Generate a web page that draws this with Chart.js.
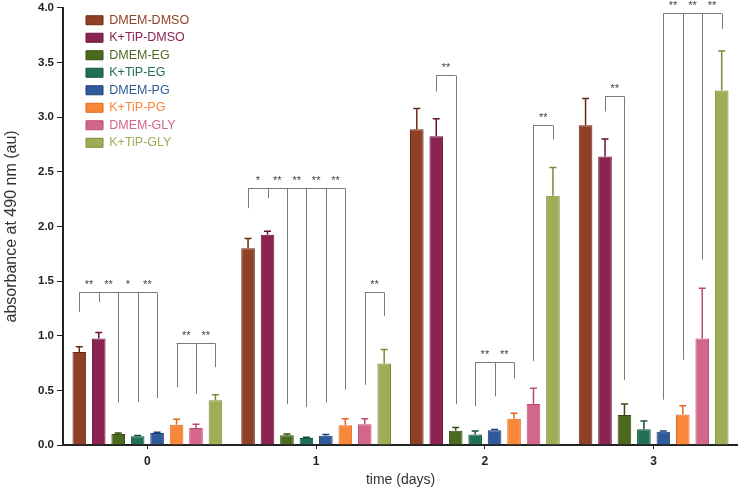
<!DOCTYPE html>
<html>
<head>
<meta charset="utf-8">
<script src="https://cdn.jsdelivr.net/npm/chart.js@4.4.1/dist/chart.umd.min.js"></script>
<style>
  html, body { margin: 0; padding: 0; background: #fff; }
</style>
</head>
<body>
<canvas id="absChart" width="738" height="490"></canvas>
<script>
// categories (days)
const days = ['0', '1', '2', '3'];

// mean absorbance per series
const dmemDmso = [0.85, 1.80, 2.89, 2.925];
const ktipDmso = [0.975, 1.925, 2.825, 2.64];
const dmemEg = [0.10, 0.09, 0.13, 0.275];
const ktipEg = [0.08, 0.065, 0.097, 0.145];
const dmemPg = [0.11, 0.085, 0.136, 0.122];
const ktipPg = [0.185, 0.18, 0.24, 0.28];
const dmemGly = [0.155, 0.19, 0.375, 0.975];
const ktipGly = [0.41, 0.745, 2.28, 3.245];

// upper error (SD)
const dmemDmsoErr = [0.05, 0.09, 0.19, 0.245];
const ktipDmsoErr = [0.055, 0.03, 0.16, 0.16];
const dmemEgErr = [0.01, 0.01, 0.03, 0.10];
const ktipEgErr = [0.008, 0.007, 0.03, 0.075];
const dmemPgErr = [0.006, 0.01, 0.006, 0.007];
const ktipPgErr = [0.05, 0.06, 0.05, 0.08];
const dmemGlyErr = [0.035, 0.05, 0.145, 0.46];
const ktipGlyErr = [0.05, 0.13, 0.26, 0.36];

// significance brackets: day, bars joined, height of bar, foot of each leg, stars between legs
const bracketDay = [0, 0, 1, 1, 2, 2, 2, 3, 3];
const bracketBars = [[0, 1, 2, 3, 4], [5, 6, 7], [0, 1, 2, 3, 4, 5], [6, 7], [1, 2], [3, 4, 5], [6, 7], [1, 2], [4, 5, 6, 7]];
const bracketTop = [1.397, 0.934, 2.355, 1.397, 3.382, 0.764, 2.924, 3.197, 3.955];
const bracketDrops = [
    [1.218, 1.31, 0.388, 0.394, 0.43],
    [0.53, 0.47, 0.712],
    [2.167, 2.257, 0.373, 0.348, 0.388, 0.506],
    [0.552, 1.18],
    [3.234, 0.373],
    [0.355, 0.445, 0.609],
    [0.767, 2.797],
    [3.052, 0.594],
    [0.415, 0.779, 1.697, 3.809]
];
const bracketStars = [
    ['**', '**', '*', '**'],
    ['**', '**'],
    ['*', '**', '**', '**', '**'],
    ['**'],
    ['**'],
    ['**', '**'],
    ['**'],
    ['**'],
    ['**', '**', '**']
];

Chart.defaults.font.family = '"Liberation Sans", Arial, sans-serif';

function series(label, data, errors, fill, line) {
    return {
        label: label,
        data: data,
        errors: errors,
        backgroundColor: fill,
        borderColor: line,
        borderWidth: 1
    };
}

// draws the upper error bar on each bar
const errorBars = {
    id: 'errorBars',
    afterDatasetsDraw(chart) {
        const ctx = chart.ctx;
        const y = chart.scales.y;
        chart.data.datasets.forEach((ds, i) => {
            const meta = chart.getDatasetMeta(i);
            meta.data.forEach((bar, j) => {
                const top = y.getPixelForValue(ds.data[j] + ds.errors[j]);
                ctx.save();
                ctx.strokeStyle = ds.borderColor;
                ctx.lineWidth = 1.5;
                ctx.beginPath();
                ctx.moveTo(bar.x, bar.y);
                ctx.lineTo(bar.x, top);
                ctx.moveTo(bar.x - 3.5, top);
                ctx.lineTo(bar.x + 3.5, top);
                ctx.stroke();
                ctx.restore();
            });
        });
    }
};

// significance brackets and stars
const brackets = {
    id: 'brackets',
    afterDatasetsDraw(chart) {
        const ctx = chart.ctx;
        const y = chart.scales.y;
        ctx.save();
        ctx.strokeStyle = '#7a7a7a';
        ctx.lineWidth = 1;
        ctx.fillStyle = '#444';
        ctx.font = '11px "Liberation Sans", Arial, sans-serif';
        ctx.textAlign = 'center';
        ctx.textBaseline = 'middle';
        bracketDay.forEach((d, k) => {
            const xs = bracketBars[k].map(b => chart.getDatasetMeta(b).data[d].x);
            const yTop = Math.round(y.getPixelForValue(bracketTop[k])) + 0.5;
            ctx.beginPath();
            ctx.moveTo(xs[0], yTop);
            ctx.lineTo(xs[xs.length - 1], yTop);
            xs.forEach((x, n) => {
                ctx.moveTo(Math.round(x) + 0.5, yTop);
                ctx.lineTo(Math.round(x) + 0.5, y.getPixelForValue(bracketDrops[k][n]));
            });
            ctx.stroke();
            bracketStars[k].forEach((s, n) => {
                ctx.fillText(s, (xs[n] + xs[n + 1]) / 2, yTop - 8);
            });
        });
        ctx.restore();
    }
};

// put the legend inside the plot, top left
const legendInside = {
    id: 'legendInside',
    afterLayout(chart) {
        const lg = chart.legend;
        lg.left = 81;
        lg.top = 9;
        lg.right = lg.left + lg.width;
        lg.bottom = lg.top + lg.height;
    }
};

const ctx = document.getElementById('absChart');

new Chart(ctx, {
    type: 'bar',
    data: {
        labels: days,
        datasets: [
            series('DMEM-DMSO', dmemDmso, dmemDmsoErr, '#8f4127', '#6b2915'),
            series('K+TiP-DMSO', ktipDmso, ktipDmsoErr, '#8b2450', '#6a1237'),
            series('DMEM-EG', dmemEg, dmemEgErr, '#4c6a1e', '#344c0f'),
            series('K+TiP-EG', ktipEg, ktipEgErr, '#226f57', '#12503d'),
            series('DMEM-PG', dmemPg, dmemPgErr, '#2f5a9b', '#1d3f78'),
            series('K+TiP-PG', ktipPg, ktipPgErr, '#f8873a', '#e0691f'),
            series('DMEM-GLY', dmemGly, dmemGlyErr, '#d4668b', '#b74a70'),
            series('K+TiP-GLY', ktipGly, ktipGlyErr, '#a0ad57', '#7d8b37')
        ]
    },
    options: {
        responsive: false,
        animation: false,
        devicePixelRatio: 1,
        layout: { padding: { top: 0, bottom: 1 } },
        datasets: {
            bar: { categoryPercentage: 0.922, barPercentage: 0.70 }
        },
        plugins: {
            tooltip: { enabled: false },
            legend: {
                position: 'chartArea',
                align: 'start',
                labels: {
                    boxWidth: 17,
                    boxHeight: 9,
                    padding: 5,
                    font: { size: 12.5 },
                    generateLabels(chart) {
                        const items = Chart.defaults.plugins.legend.labels.generateLabels(chart);
                        items.forEach(it => { it.fontColor = chart.data.datasets[it.datasetIndex].backgroundColor; });
                        return items;
                    }
                }
            }
        },
        scales: {
            x: {
                afterFit(scale) { scale.height = 44; },
                grid: { offset: false, drawOnChartArea: false, tickLength: 4, color: '#222' },
                border: { color: '#222', width: 2 },
                ticks: { color: '#222', padding: 5, font: { size: 12, weight: 'bold' } },
                title: {
                    display: true,
                    text: 'time (days)',
                    color: '#333',
                    font: { size: 14 },
                    padding: { top: 0, bottom: 0 }
                }
            },
            y: {
                min: 0,
                max: 4,
                afterFit(scale) { scale.width = 63; },
                grid: { drawOnChartArea: false, tickLength: 6, color: '#222' },
                border: { color: '#222', width: 2 },
                ticks: {
                    stepSize: 0.5,
                    color: '#222',
                    padding: 3,
                    font: { size: 11.5, weight: 'bold', lineHeight: 0.85 },
                    callback: v => v.toFixed(1)
                },
                title: {
                    display: true,
                    text: 'absorbance at 490 nm (au)',
                    color: '#333',
                    font: { size: 16 },
                    padding: { top: 2, bottom: 0 }
                }
            }
        }
    },
    plugins: [errorBars, brackets, legendInside]
});
</script>
</body>
</html>
